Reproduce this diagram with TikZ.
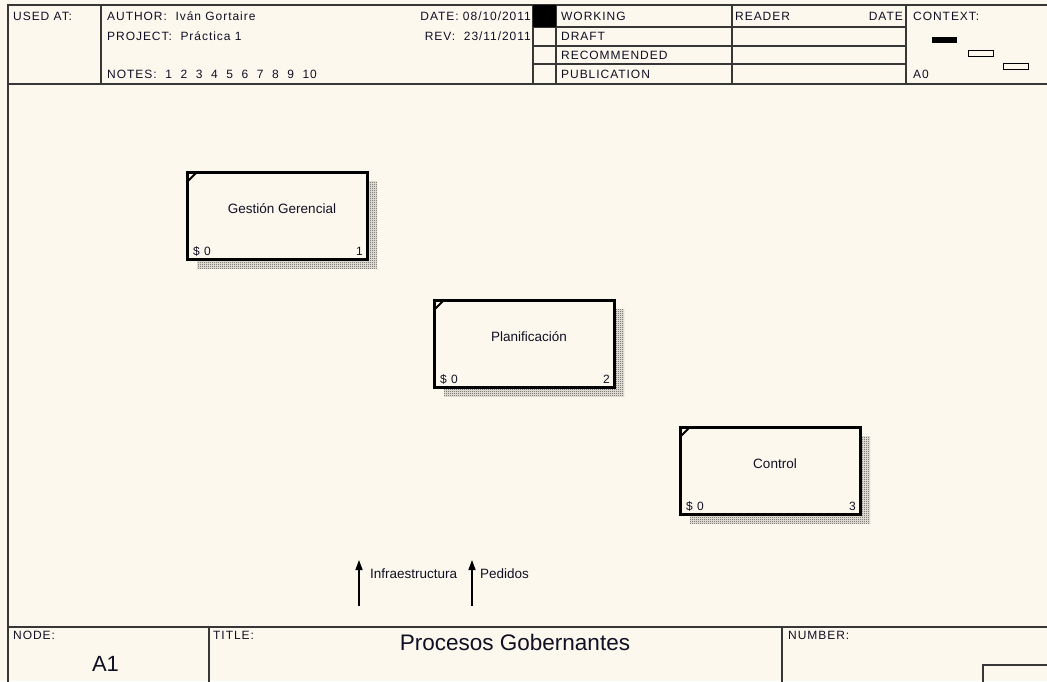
\documentclass[tikz,border=0pt]{standalone}
\usepackage{fontspec}
\setmainfont{Liberation Sans}
\newfontfamily\hdrfont[LetterSpace=8]{Liberation Sans}
\usetikzlibrary{arrows.meta,patterns.meta}

\definecolor{paper}{RGB}{253,248,238}
\definecolor{rule}{RGB}{55,55,55}
\definecolor{ink}{RGB}{15,15,35}

\tikzdeclarepattern{
  name=checker,
  type=uncolored,
  bottom left={(0pt,0pt)},
  top right={(2pt,2pt)},
  tile size={(2pt,2pt)},
  code={
    \fill (0pt,0pt) rectangle (1pt,1pt);
    \fill (1pt,1pt) rectangle (2pt,2pt);
  }
}

\tikzset{
  frame/.style={draw=rule, line width=1.3pt},
  hdr/.style={inner sep=0pt, anchor=base west, text=ink, font=\hdrfont\fontsize{12}{14}\selectfont},
  act/.style={draw=black, fill=paper, line width=3pt, minimum width=180pt, minimum height=87pt,
              inner sep=0pt, outer sep=0pt, anchor=north west},
  acttext/.style={inner sep=0pt, anchor=base, text=ink, font=\fontsize{13.5}{16}\selectfont},
  flow/.style={draw=black, line width=1.5pt, -{Triangle[length=10pt,width=7pt]}}
}

\begin{document}
\begin{tikzpicture}[x=1pt,y=-1pt]

\useasboundingbox (0,0) rectangle (1047,681);
\fill[paper] (0,0) rectangle (1047,681);
\clip (0,0) rectangle (1047,681);

% header
\draw[frame] (8,690) -- (8,5) -- (1060,5);
\draw[frame] (8,84) -- (1060,84);
\foreach \x in {101,533,556,732,906}
    \draw[frame] (\x,5) -- (\x,84);
\foreach \y in {27,46,64}
    \draw[frame] (533,\y) -- (906,\y);
\fill[black] (533,5) rectangle (556,27);

\node[hdr] (usedat) at (13,20) {USED AT:};
\node[hdr] (author) at (107,20) {AUTHOR:\ \ Iván Gortaire};
\node[hdr] (project) at (107,40) {PROJECT:\ \ Práctica 1};
\node[hdr] (notes) at (107,78) {NOTES:\ \ 1 \ 2 \ 3 \ 4 \ 5 \ 6 \ 7 \ 8 \ 9 \ 10};
\node[hdr, anchor=base east] (date) at (531,20) {DATE: 08/10/2011};
\node[hdr, anchor=base east] (rev) at (531,40) {REV:\ \ 23/11/2011};

\foreach \y/\s in {20/WORKING,40/DRAFT,59/RECOMMENDED,78/PUBLICATION}
    \node[hdr] (st\y) at (561,\y) {\s};

\node[hdr] (reader) at (735,20) {READER};
\node[hdr, anchor=base east] (rdate) at (903,20) {DATE};
\node[hdr] (context) at (913,20) {CONTEXT:};
\node[hdr] (ctxnode) at (913,78) {A0};

\fill[black] (932,37) rectangle (957,43);
\draw[black, line width=1pt] (968,50) rectangle (993,56);
\draw[black, line width=1pt] (1003,63) rectangle (1028,69);

% activities
\foreach \x/\y/\n/\t in {187/172/1/Gestión Gerencial,434/300/2/Planificación,680/427/3/Control}{
    \fill[pattern=checker, pattern color=black] (\x+10,\y+9) rectangle ++(180,87);
    \node[act] (a\n) at (\x,\y) {};
    \draw[black, line width=2pt] ([xshift=10pt]a\n.north west) -- ([yshift=-10pt]a\n.north west);
    \node[acttext] (t\n) at ([xshift=5pt,yshift=2.5pt]a\n.center) {\t};
    \node[hdr] (c\n) at ([xshift=6pt,yshift=4pt]a\n.south west) {\$ 0};
    \node[hdr, anchor=base east] (n\n) at ([xshift=-4pt,yshift=4pt]a\n.south east) {\n};
}

% arrows
\coordinate (infra0) at (359,606);
\coordinate (infra1) at (359,560);
\coordinate (ped0) at (472,606);
\coordinate (ped1) at (472,560);
\draw[flow] (infra0) -- (infra1);
\draw[flow] (ped0) -- (ped1);
\node[acttext, anchor=base west] (infra) at (370,578) {Infraestructura};
\node[acttext, anchor=base west] (ped) at (480,578) {Pedidos};

% footer
\draw[frame] (8,627) -- (1060,627);
\foreach \x in {209,782}
    \draw[frame] (\x,627) -- (\x,690);
\draw[frame] (983,665) rectangle (1060,690);

\node[hdr] (nodelbl) at (13,639) {NODE:};
\node[hdr] (titlelbl) at (213,639) {TITLE:};
\node[hdr] (numlbl) at (788,639) {NUMBER:};
\node[inner sep=0pt, anchor=base, text=ink, font=\fontsize{22}{26}\selectfont] (nodeid) at (105.5,671) {A1};
\node[inner sep=0pt, anchor=base, text=ink, font=\fontsize{22.5}{26}\selectfont] (title) at (515,650) {Procesos Gobernantes};

\end{tikzpicture}
\end{document}
